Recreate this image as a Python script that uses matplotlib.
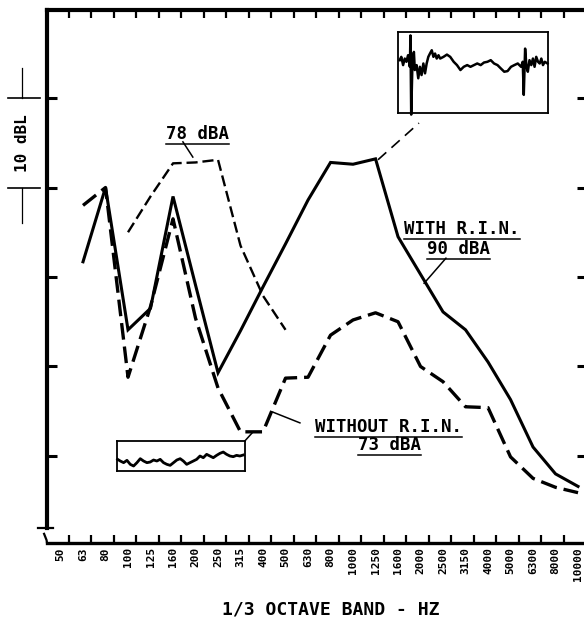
"""Recreate the 1/3 octave band comparison chart (with / without R.I.N.)."""
import numpy as np
import matplotlib
matplotlib.use("Agg")
import matplotlib.pyplot as plt
from matplotlib.ticker import FixedLocator
from matplotlib.transforms import blended_transform_factory

nan = np.nan

bands = ["50", "63", "80", "100", "125", "160", "200", "250", "315", "400",
         "500", "630", "800", "1000", "1250", "1600", "2000", "2500", "3150",
         "4000", "5000", "6300", "8000", "10000"]

# levels in dB (arbitrary reference, 10 dB per left tick)
with_rin = [nan, 31.7, 40.0, 24.1, 26.5, 39.0, 29.1, 19.3, 24.0, 28.9, 33.7,
            38.6, 42.8, 42.6, 43.2, 34.5, 30.3, 26.1, 24.1, 20.5, 16.3, 11.0,
            8.0, 6.6]
without_rin = [nan, 38.0, 40.0, 18.8, 26.7, 36.5, 25.4, 17.6, 12.7, 12.7,
               18.7, 18.8, 23.5, 25.2, 26.0, 25.0, 20.0, 18.3, 15.5, 15.4,
               9.9, 7.5, 6.5, 5.9]
level_78 = [nan, nan, nan, 35.0, 39.0, 42.7, 42.8, 43.1, 33.5, 27.9, 24.1,
            nan, nan, nan, nan, nan, nan, nan, nan, nan, nan, nan, nan, nan]

# waveform traces shown in the two small boxes (percent of box)
top_wave_x = [1.1, 2.2, 3.4, 4.5, 5.6, 6.7, 7.9, 8.3, 8.8, 9.7, 10.6, 11.2,
              12.4, 13.5, 14.6, 15.7, 16.9, 18.0, 19.1, 20.2, 21.3, 22.5,
              23.6, 24.7, 25.8, 27.0, 28.1, 30.3, 32.6, 34.8, 37.1, 39.3,
              41.6, 43.8, 46.1, 48.3, 50.6, 52.8, 55.1, 57.3, 59.6, 61.8,
              64.0, 66.3, 68.5, 70.8, 73.0, 75.3, 77.5, 79.8, 82.0, 83.1,
              83.8, 84.7, 85.6, 86.5, 87.6, 88.8, 89.9, 91.0, 92.1, 93.3,
              94.4, 95.5, 96.6, 97.8, 99.6]
top_wave_y = [65.3, 69.4, 59.2, 67.3, 63.3, 71.4, 57.1, 95.9, -2.0, 67.3,
              75.5, 53.1, 59.2, 42.9, 57.1, 46.9, 61.2, 49.0, 61.2, 69.4,
              73.5, 77.6, 69.4, 73.5, 67.3, 71.4, 67.3, 69.4, 72.2, 69.4,
              63.3, 59.2, 53.1, 57.1, 59.2, 57.1, 59.2, 61.2, 59.2, 62.4,
              63.3, 65.3, 61.2, 59.2, 55.1, 51.0, 51.8, 57.1, 59.2, 61.2,
              57.1, 63.3, 22.4, 79.6, 57.1, 51.0, 65.3, 59.2, 67.3, 57.1,
              69.4, 63.3, 61.2, 67.3, 59.2, 63.3, 61.2]
low_wave_x = [0.5, 2.6, 5.2, 7.8, 10.4, 13.0, 15.6, 18.2, 20.8, 23.4, 26.0,
              28.6, 31.2, 33.8, 36.4, 39.0, 41.6, 44.2, 46.8, 49.4, 51.9,
              54.5, 57.1, 59.7, 62.3, 64.9, 67.5, 70.1, 72.7, 75.3, 77.9,
              80.5, 83.1, 85.7, 88.3, 90.9, 93.5, 96.1, 98.7]
low_wave_y = [38.9, 33.3, 27.8, 35.6, 22.2, 16.7, 27.8, 41.1, 33.3, 27.8,
              30.0, 36.7, 33.3, 38.9, 27.8, 22.2, 18.9, 27.8, 36.7, 41.1,
              33.3, 22.2, 27.8, 33.3, 38.9, 50.0, 44.4, 55.6, 50.0, 44.4,
              52.2, 58.9, 63.3, 55.6, 50.0, 47.8, 52.2, 50.0, 53.3]

MONO = ["DejaVu Sans Mono", "DejaVu Sans"]
plt.rcParams["font.family"] = MONO
plt.rcParams["font.weight"] = "bold"
plt.rcParams["lines.scale_dashes"] = False

fig = plt.figure(figsize=(5.84, 6.27), dpi=100)
ax = fig.add_axes([0.0805, 0.134, 0.9247, 0.850])
x = np.arange(len(bands))

ax.plot(x, with_rin, color="black", lw=2.2, solid_joinstyle="miter")
ax.plot(x, without_rin, color="black", lw=2.4, dashes=(12, 5))
ax.plot(x, level_78, color="black", lw=1.7, dashes=(8, 3.5))

ax.set_xlim(-0.6, 23.4)
ax.set_ylim(0.28, 59.83)

# axes frame
for side, w in (("left", 3.0), ("top", 3.0), ("bottom", 2.4), ("right", 3.0)):
    ax.spines[side].set_linewidth(w)
ax.spines["left"].set_bounds(1.95, 59.83)
ax.plot([-0.99, -0.33], [1.95, 1.95], color="black", lw=1.6, clip_on=False)
ax.plot([-0.73, -0.62, -0.6], [1.3, 0.6, 0.28], color="black", lw=1.6,
        clip_on=False)

ax.set_xticks(x)
ax.set_xticklabels(bands, rotation=90, fontsize=8, fontweight="bold",
                   va="top")
ax.xaxis.set_minor_locator(FixedLocator(x + 0.36))
ax.tick_params(axis="x", which="major", length=0, pad=3)
ax.tick_params(axis="x", which="minor", direction="in", length=6, width=1.6,
               top=True, bottom=True)
ax.set_yticks([10, 20, 30, 40, 50])
ax.set_yticklabels([])
ax.tick_params(axis="y", which="major", direction="in", length=7, width=2.2,
               left=True, right=True)

fig.text(331 / 584, 1 - 610 / 627, "1/3 OCTAVE BAND - HZ", ha="center",
         va="center", fontsize=13, fontweight="bold")

# "10 dBL" scale marker on the left
bt = blended_transform_factory(fig.transFigure, ax.transData)
for yv in (50, 40):
    ax.plot([0.0137, 0.0685], [yv, yv], color="black", lw=1.2,
            transform=bt, clip_on=False)
ax.plot([0.0377, 0.0377], [50, 53.35], color="black", lw=0.9, transform=bt,
        clip_on=False)
ax.plot([0.0377, 0.0377], [40, 36.0], color="black", lw=0.9, transform=bt,
        clip_on=False)
ax.text(0.0377, 45.0, "10 dBL", transform=bt, rotation=90, ha="center",
        va="center", fontsize=11.5, fontweight="bold")

# callout labels (underlined)
labels = [
    ("78 dBA", 6.09, 46.0),
    ("WITH R.I.N.", 17.84, 35.4),
    ("90 dBA", 17.7, 33.1),
    ("WITHOUT R.I.N.", 14.58, 13.2),
    ("73 dBA", 14.64, 11.2),
]
texts = [ax.text(lx, ly, s, ha="center", va="center", fontsize=12.5,
                 fontweight="bold") for s, lx, ly in labels]
fig.canvas.draw()
inv = ax.transData.inverted()
for t in texts:
    bb = t.get_window_extent()
    (x0, y0), (x1, _) = inv.transform([[bb.x0, bb.y0 - 1], [bb.x1, bb.y1]])
    ax.plot([x0, x1], [y0, y0], color="black", lw=1.1)

# leader lines
ax.plot([5.44, 5.88], [45.1, 43.4], color="black", lw=1.1)
ax.plot([17.13, 16.16], [32.1, 29.3], color="black", lw=1.1)
ax.plot([9.44, 10.64], [14.9, 13.7], color="black", lw=1.1)
ax.plot([14.11, 15.93], [43.1, 47.2], color="black", lw=1.2, dashes=(8, 5))
ax.plot([8.2, 8.56], [11.7, 12.7], color="black", lw=1.1)

# waveform boxes
for rect, wx, wy, lw in (
    ([0.6815, 0.8198, 0.257, 0.129], top_wave_x, top_wave_y, 1.8),
    ([0.2003, 0.2488, 0.219, 0.0478], low_wave_x, low_wave_y, 2.0),
):
    ia = fig.add_axes(rect)
    ia.plot(wx, wy, color="black", lw=lw, clip_on=False)
    ia.set_xlim(0, 100)
    ia.set_ylim(0, 100)
    ia.set_xticks([])
    ia.set_yticks([])
    for sp in ia.spines.values():
        sp.set_linewidth(1.3)

fig.savefig("out.png", dpi=100, facecolor="white")
plt.close(fig)
